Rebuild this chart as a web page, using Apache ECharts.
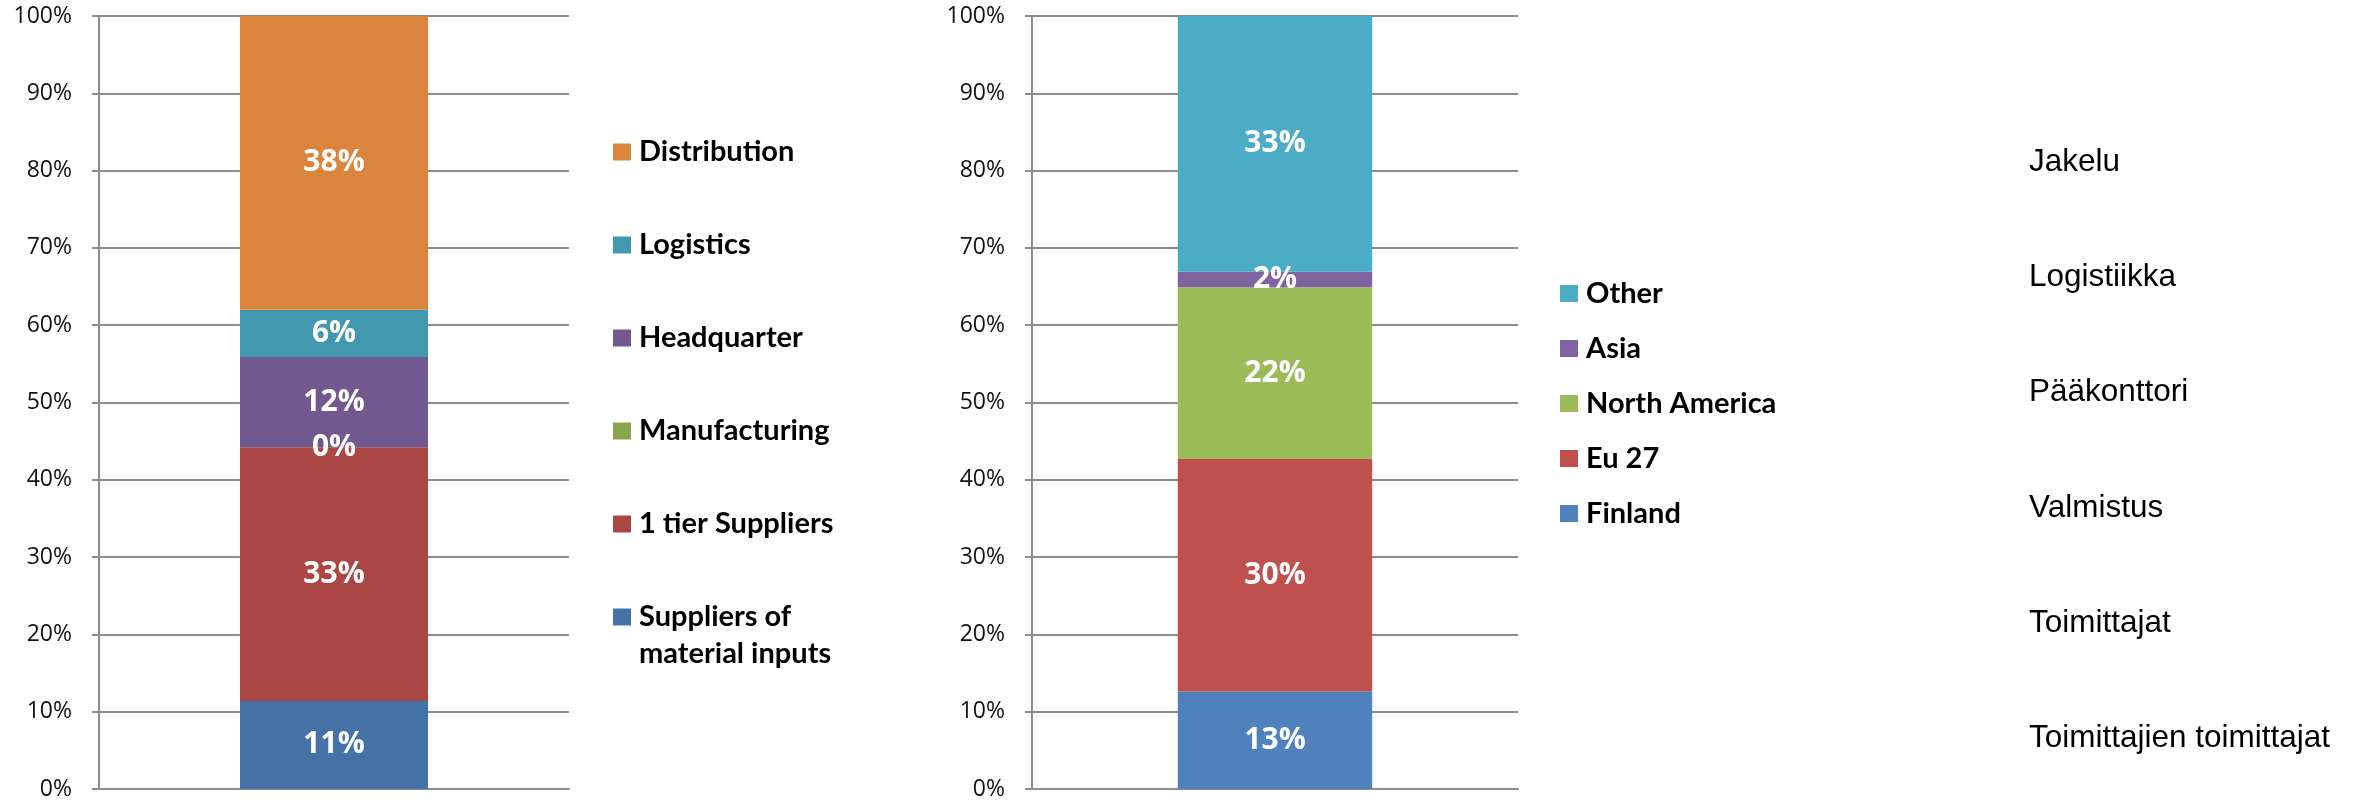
<!DOCTYPE html>
<html>
<head>
<meta charset="utf-8">
<script src="https://cdn.jsdelivr.net/npm/echarts@6/dist/echarts.min.js"></script>
<style>
html,body{margin:0;padding:0;background:#fff;}
#chart{width:2356px;height:801px;}
</style>
</head>
<body>
<div id="chart"></div>
<script>
// ---- data ----
const valueChainStages = ['Suppliers of material inputs', '1 tier Suppliers', 'Manufacturing', 'Headquarter', 'Logistics', 'Distribution'];
const valueChainShares = [11.4, 32.8, 0, 11.7, 6.1, 38.0];
const regions = ['Finland', 'Eu 27', 'North America', 'Asia', 'Other'];
const regionShares = [12.6, 30.1, 22.2, 2.0, 33.1];
const finnishLabels = ['Jakelu', 'Logistiikka', 'Pääkonttori', 'Valmistus', 'Toimittajat', 'Toimittajien toimittajat'];

// ---- styles ----
const leftColors = ['#4572A7', '#AA4643', '#89A54E', '#71588F', '#4198AF', '#DB843D'];
const rightColors = ['#4F81BD', '#C0504D', '#9BBB59', '#8064A2', '#4BACC6'];
const gridGray = '#8c8c8c';

const chart = echarts.init(document.getElementById('chart'), null, {renderer: 'canvas'});

function makeYAxis(gridIndex) {
  return {
    type: 'value', gridIndex: gridIndex, min: 0, max: 100, interval: 10,
    axisLine: {show: true, lineStyle: {color: gridGray, width: 2}},
    axisTick: {show: true, length: 7, lineStyle: {color: gridGray, width: 2}},
    splitLine: {show: true, lineStyle: {color: gridGray, width: 2}},
    axisLabel: {formatter: '{value}%', margin: 27, fontFamily: 'Open Sans', fontSize: 23, color: '#111'}
  };
}
function makeXAxis(gridIndex) {
  return {
    type: 'category', gridIndex: gridIndex, data: [''],
    axisLine: {show: true, lineStyle: {color: gridGray, width: 2}},
    axisTick: {show: false}, axisLabel: {show: false}, splitLine: {show: false}
  };
}
const barLabel = {
  show: true, position: 'inside', color: '#fff', fontFamily: 'Open Sans', fontWeight: 'bold', fontSize: 30,
  formatter: p => Math.round(p.value) + '%'
};

const series = [];
valueChainStages.forEach((name, i) => {
  series.push({
    name: name, type: 'bar', stack: 'chain', xAxisIndex: 0, yAxisIndex: 0,
    barWidth: '40%', data: [valueChainShares[i]],
    itemStyle: {color: leftColors[i]}, label: barLabel, emphasis: {disabled: true}
  });
});
regions.forEach((name, i) => {
  series.push({
    name: name, type: 'bar', stack: 'region', xAxisIndex: 1, yAxisIndex: 1,
    barWidth: '40%', data: [regionShares[i]],
    itemStyle: {color: rightColors[i]}, label: barLabel, emphasis: {disabled: true}
  });
});

const legendText = {fontFamily: 'Lato', fontWeight: 'bold', fontSize: 29, lineHeight: 37, color: '#000', padding: [0, 0, 0, 3]};

const option = {
  animation: false,
  backgroundColor: '#fff',
  grid: [
    {left: 99, top: 16, width: 470, height: 773},
    {left: 1032, top: 16, width: 486, height: 773}
  ],
  xAxis: [makeXAxis(0), makeXAxis(1)],
  yAxis: [makeYAxis(0), makeYAxis(1)],
  legend: [
    {
      data: valueChainStages.slice(1).reverse(), orient: 'vertical', left: 613, top: 133.5,
      itemGap: 56, itemWidth: 18, itemHeight: 17, padding: 0, icon: 'rect', selectedMode: false,
      textStyle: legendText
    },
    {
      data: [valueChainStages[0]], orient: 'vertical', left: 613, top: 561.5,
      itemWidth: 18, itemHeight: 17, padding: 0, icon: 'rect', selectedMode: false,
      formatter: name => '{s| }\n{a|' + name.replace(' of ', ' of}\n{a|') + '}',
      textStyle: Object.assign({}, legendText, {
        rich: {
          s: {fontFamily: 'Lato', fontSize: 29, lineHeight: 37},
          a: {fontFamily: 'Lato', fontWeight: 'bold', fontSize: 29, lineHeight: 37, color: '#000'}
        }
      })
    },
    {
      data: regions.slice().reverse(), orient: 'vertical', left: 1560, top: 275,
      itemGap: 18, itemWidth: 18, itemHeight: 17, padding: 0, icon: 'rect', selectedMode: false,
      textStyle: legendText
    }
  ],
  graphic: finnishLabels.map((t, i) => ({
    type: 'text', x: 2029, y: 162 + i * 115.3,
    style: {text: t, fontFamily: 'Liberation Sans', fontSize: 31.5, fill: '#000', verticalAlign: 'middle'}
  })),
  series: series
};
chart.setOption(option);
</script>
</body>
</html>
